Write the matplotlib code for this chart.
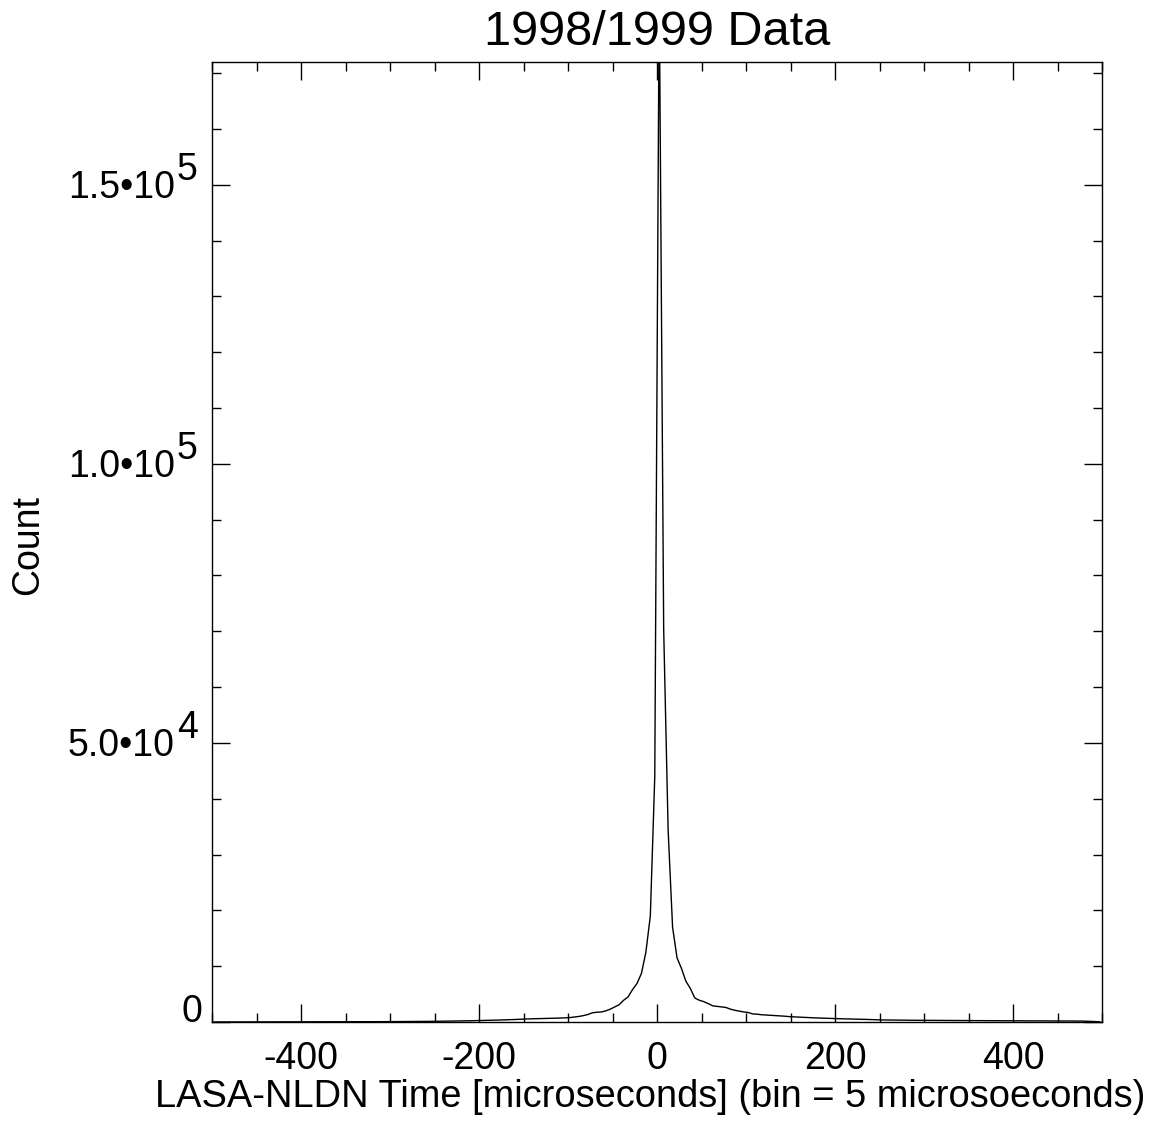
import numpy as np
import matplotlib
matplotlib.use("Agg")
import matplotlib.pyplot as plt
import matplotlib.transforms as mtransforms
from matplotlib.ticker import MultipleLocator, FixedLocator, NullFormatter

plt.rcParams['font.family'] = ['Liberation Sans', 'DejaVu Sans']

# bin centers, 5 microsecond bins
bin_centers = np.arange(-497.5, 500, 5.0)

# counts, left half (-497.5 ... -2.5)
counts_left = [
    5, 6, 5, 7, 6, 8, 7, 8, 9, 10,
    10, 11, 12, 12, 13, 14, 15, 16, 17, 18,
    19, 20, 22, 23, 25, 26, 28, 30, 32, 34,
    36, 38, 40, 43, 46, 48, 52, 55, 58, 62,
    66, 70, 75, 80, 86, 92, 98, 105, 112, 120,
    130, 140, 150, 160, 172, 185, 200, 215, 232, 250,
    270, 290, 310, 330, 350, 375, 400, 430, 460, 500,
    540, 560, 580, 600, 620, 640, 660, 690, 720, 750,
    800, 900, 1000, 1150, 1350, 1650, 1750, 1800, 2000, 2300,
    2700, 3100, 3900, 4500, 5800, 6900, 8700, 12500, 19000, 44000,
]
# right half (2.5 ... 497.5)
counts_right = [
    185000, 70400, 34400, 17000, 11500, 9600, 7300, 6000, 4300, 3900,
    3650, 3300, 2900, 2800, 2700, 2600, 2300, 2100, 1950, 1800,
    1700, 1450, 1400, 1300, 1250, 1200, 1150, 1100, 1050, 980,
    930, 890, 850, 800, 770, 740, 710, 680, 650, 620,
    600, 580, 560, 540, 510, 490, 470, 450, 420, 390,
    370, 360, 350, 340, 330, 320, 315, 310, 305, 300,
    295, 290, 285, 280, 275, 270, 265, 260, 250, 245,
    240, 240, 235, 235, 230, 230, 228, 225, 222, 220,
    218, 215, 212, 210, 208, 205, 200, 198, 195, 190,
    185, 180, 178, 175, 170, 160, 140, 110, 80, 40,
]
counts = np.array(counts_left + counts_right)

ytick_vals = [0, 50000, 100000, 150000]
ytick_mant = ['0', '5.0•10', '1.0•10', '1.5•10']
ytick_exp = ['', '4', '5', '5']
xtick_vals = [-400, -200, 0, 200, 400]

fig = plt.figure(figsize=(11.64, 11.22), dpi=100)
ax = fig.add_axes([212/1164, 1 - 1022/1122, 890/1164, 960/1122])

ax.plot(bin_centers, counts, color='black', lw=1.0)

ax.set_xlim(-500, 500)
ax.set_ylim(0, 172000)
ax.xaxis.set_major_locator(FixedLocator(xtick_vals))
ax.xaxis.set_minor_locator(MultipleLocator(50))
ax.yaxis.set_major_locator(FixedLocator(ytick_vals))
ax.yaxis.set_minor_locator(MultipleLocator(10000))
ax.yaxis.set_major_formatter(NullFormatter())
ax.set_xticklabels([str(v) for v in xtick_vals])

ax.tick_params(which='both', direction='in', top=True, right=True, width=1.0, labelsize=27)
ax.tick_params(which='major', length=13)
ax.tick_params(which='minor', length=6.5)
ax.tick_params(axis='x', pad=14)
for s in ax.spines.values():
    s.set_linewidth(1.0)

# y tick labels drawn by hand: IDL style, exponent in full size and raised
trans = mtransforms.blended_transform_factory(ax.transAxes, ax.transData)
for val, mant, ex in zip(ytick_vals, ytick_mant, ytick_exp):
    if ex == '':
        t = mtransforms.offset_copy(trans, fig=fig, x=-10, y=0, units='dots')
        ax.text(0, val, mant, transform=t, ha='right', va='baseline', fontsize=27)
        continue
    t_main = mtransforms.offset_copy(trans, fig=fig, x=-37, y=-13, units='dots')
    ax.text(0, val, mant, transform=t_main, ha='right', va='baseline', fontsize=27)
    t_exp = mtransforms.offset_copy(trans, fig=fig, x=-35, y=5, units='dots')
    ax.text(0, val, ex, transform=t_exp, ha='left', va='baseline', fontsize=27)

ax.set_title('1998/1999 Data', fontsize=35, pad=12)
ax.set_xlabel('LASA-NLDN Time [microseconds] (bin = 5 microsoeconds)', fontsize=27.4, labelpad=1)
ax.xaxis.label.set_x((650 - 212) / 890)
fig.text(28/1164, 1 - 545/1122, 'Count', rotation=90, ha='center', va='center', fontsize=27)

fig.savefig('out.png', dpi=100)
